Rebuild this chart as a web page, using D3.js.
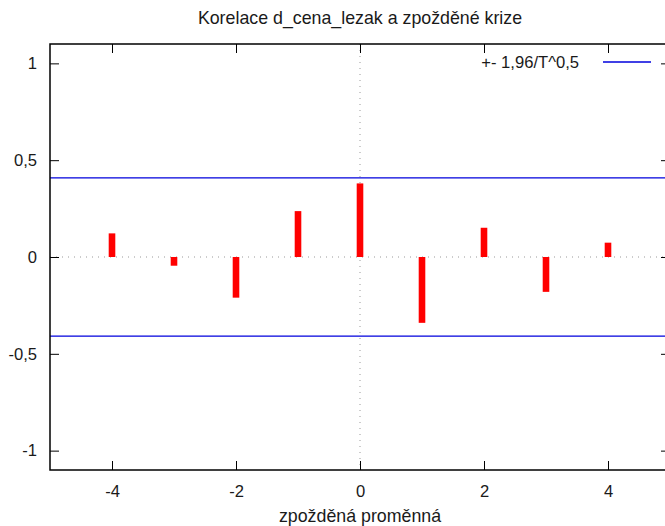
<!DOCTYPE html>
<html>
<head>
<meta charset="utf-8">
<script src="https://cdn.jsdelivr.net/npm/d3@7"></script>
<style>
  html, body { margin: 0; padding: 0; background: #fff; }
  svg { display: block; }
  text { font-family: "Liberation Sans", Arial, sans-serif; fill: #1a1a1a; }
</style>
</head>
<body>
<svg id="chart" width="665" height="526"></svg>
<script>
// Cross-correlation of d_cena_lezak with lagged "krize"
const lags = [-4, -3, -2, -1, 0, 1, 2, 3, 4];
const correlations = [0.122, -0.045, -0.210, 0.237, 0.380, -0.340, 0.151, -0.180, 0.074];
const bandValue = 0.4087;           // 1.96 / sqrt(T)
const xTicks = [-4, -2, 0, 2, 4];
const yTicks = [-1, -0.5, 0, 0.5, 1];
const titleText = "Korelace d_cena_lezak a zpožděné krize";
const xLabelText = "zpožděná proměnná";
const legendText = "+- 1,96/T^0,5";

const svg = d3.select("#chart");
const plot = { left: 50, right: 670, top: 44, bottom: 470 };
const labelSize = 17.8;
const tickSize = 16.6;

const x = d3.scaleLinear().domain([-5, 5]).range([plot.left, plot.right]);
const y = d3.scaleLinear().domain([-1.1, 1.1]).range([plot.bottom, plot.top]);
const fmt = d => (d === 0 ? "0" : String(d).replace(".", ","));

// dotted zero axes
svg.append("line")
  .attr("x1", plot.left).attr("x2", plot.right)
  .attr("y1", y(0)).attr("y2", y(0))
  .attr("stroke", "#999").attr("stroke-width", 1).attr("stroke-dasharray", "1,5");
svg.append("line")
  .attr("x1", x(0)).attr("x2", x(0))
  .attr("y1", plot.top).attr("y2", plot.bottom)
  .attr("stroke", "#999").attr("stroke-width", 1).attr("stroke-dasharray", "1,5");

// confidence band
[bandValue, -bandValue].forEach(v => {
  svg.append("line")
    .attr("x1", plot.left).attr("x2", plot.right)
    .attr("y1", y(v)).attr("y2", y(v))
    .attr("stroke", "#0000dd").attr("stroke-width", 1.3);
});

// correlation impulses
svg.append("g").selectAll("rect")
  .data(lags.map((l, i) => ({ lag: l, r: correlations[i] })))
  .join("rect")
  .attr("x", d => x(d.lag) - 3.3)
  .attr("width", 6.6)
  .attr("y", d => Math.min(y(d.r), y(0)))
  .attr("height", d => Math.abs(y(d.r) - y(0)))
  .attr("fill", "#ff0000");

// axes drawn with inward ticks on every side
const tickLen = 9;
const axB = d3.axisBottom(x).tickValues(xTicks).tickSize(-tickLen).tickFormat(fmt).tickPadding(15);
const axT = d3.axisTop(x).tickValues(xTicks).tickSize(-tickLen).tickFormat("");
const axL = d3.axisLeft(y).tickValues(yTicks).tickSize(-tickLen).tickFormat(fmt).tickPadding(13);
const axR = d3.axisRight(y).tickValues(yTicks).tickSize(-tickLen).tickFormat("");

function styleAxis(g) {
  g.select(".domain").remove();
  g.selectAll(".tick line").attr("stroke", "#000").attr("stroke-width", 1);
  g.selectAll(".tick text")
    .attr("fill", "#1a1a1a")
    .style("font-family", "'Liberation Sans', Arial, sans-serif")
    .style("font-size", tickSize + "px");
}
svg.append("g").attr("transform", `translate(0,${plot.bottom})`).call(axB).call(styleAxis);
svg.append("g").attr("transform", `translate(0,${plot.top})`).call(axT).call(styleAxis);
svg.append("g").attr("transform", `translate(${plot.left},0)`).call(axL).call(styleAxis);
svg.append("g").attr("transform", `translate(${plot.right},0)`).call(axR).call(styleAxis);

// frame
svg.append("rect")
  .attr("x", plot.left).attr("y", plot.top)
  .attr("width", plot.right - plot.left).attr("height", plot.bottom - plot.top)
  .attr("fill", "none").attr("stroke", "#000").attr("stroke-width", 1.5);

// title and axis label
svg.append("text")
  .attr("x", x(0)).attr("y", 24)
  .attr("text-anchor", "middle")
  .style("font-size", labelSize + "px")
  .text(titleText);
svg.append("text")
  .attr("x", x(0)).attr("y", 522)
  .attr("text-anchor", "middle")
  .style("font-size", labelSize + "px")
  .text(xLabelText);

// legend
svg.append("text")
  .attr("x", 579).attr("y", 68)
  .attr("text-anchor", "end")
  .style("font-size", tickSize + "px")
  .text(legendText);
svg.append("line")
  .attr("x1", 603).attr("x2", 651)
  .attr("y1", 62).attr("y2", 62)
  .attr("stroke", "#0000dd").attr("stroke-width", 1.3);
</script>
</body>
</html>
